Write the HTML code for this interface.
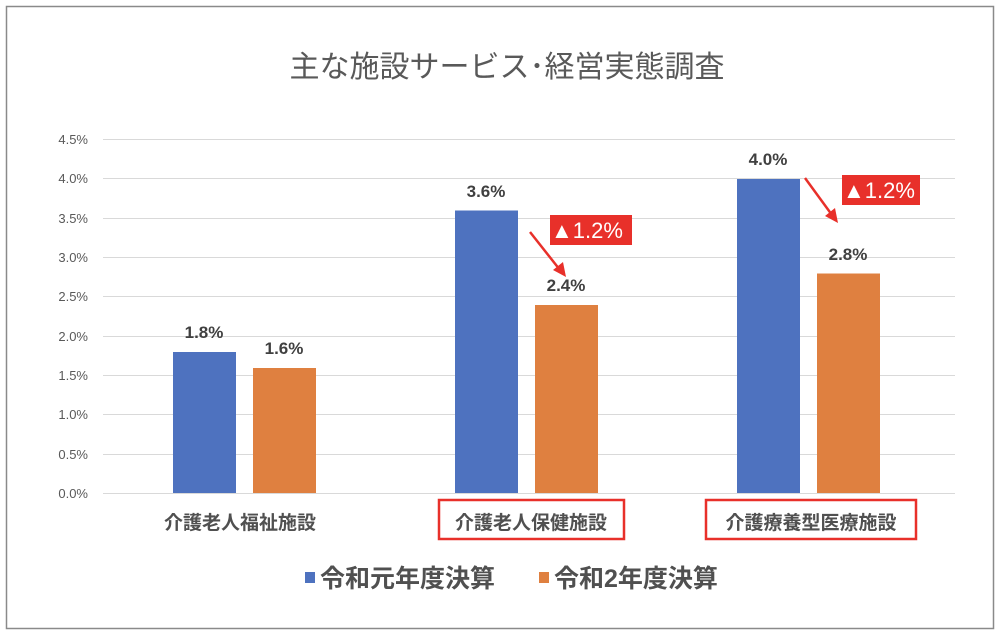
<!DOCTYPE html>
<html><head><meta charset="utf-8"><style>
body{margin:0;background:#fff;}
svg text{font-family:"Liberation Sans","Noto Sans CJK JP",sans-serif;}
</style></head><body>
<svg width="1000" height="638" xmlns="http://www.w3.org/2000/svg">
<rect x="6.5" y="6.5" width="987" height="622" fill="#fff" stroke="#8a8a8a" stroke-width="1.5"/>
<text x="507" y="77" font-size="30" fill="#595959" text-anchor="middle">主な施設サービス･経営実態調査</text>
<g stroke="#d9d9d9" stroke-width="1">
<line x1="103" x2="955" y1="139.5" y2="139.5"/><line x1="103" x2="955" y1="178.5" y2="178.5"/>
<line x1="103" x2="955" y1="218.5" y2="218.5"/><line x1="103" x2="955" y1="257.5" y2="257.5"/>
<line x1="103" x2="955" y1="296.5" y2="296.5"/><line x1="103" x2="955" y1="336.5" y2="336.5"/>
<line x1="103" x2="955" y1="375.5" y2="375.5"/><line x1="103" x2="955" y1="414.5" y2="414.5"/>
<line x1="103" x2="955" y1="454.5" y2="454.5"/><line x1="103" x2="955" y1="493.5" y2="493.5"/>
</g>
<g font-size="13" fill="#595959" text-anchor="end">
<text x="88" y="144">4.5%</text><text x="88" y="183">4.0%</text><text x="88" y="223">3.5%</text>
<text x="88" y="262">3.0%</text><text x="88" y="301">2.5%</text><text x="88" y="341">2.0%</text>
<text x="88" y="380">1.5%</text><text x="88" y="419">1.0%</text><text x="88" y="459">0.5%</text>
<text x="88" y="498">0.0%</text>
</g>
<g fill="#4e72bf">
<rect x="173" y="352" width="63" height="141"/>
<rect x="455" y="210.5" width="63" height="282.5"/>
<rect x="737" y="179" width="63" height="314"/>
</g>
<g fill="#df8040">
<rect x="253" y="368" width="63" height="125"/>
<rect x="535" y="305" width="63" height="188"/>
<rect x="817" y="273.5" width="63" height="219.5"/>
</g>
<g font-size="17" font-weight="bold" fill="#404040" text-anchor="middle">
<text x="204" y="338">1.8%</text><text x="284" y="354">1.6%</text>
<text x="486" y="197">3.6%</text><text x="566" y="291">2.4%</text>
<text x="768" y="165">4.0%</text><text x="848" y="260">2.8%</text>
</g>
<g font-size="19" font-weight="bold" fill="#505050" text-anchor="middle">
<text x="240" y="529">介護老人福祉施設</text>
<text x="531" y="529">介護老人保健施設</text>
<text x="811" y="529">介護療養型医療施設</text>
</g>
<g fill="none" stroke="#e8302a" stroke-width="2.5">
<rect x="439" y="500" width="185" height="39"/>
<rect x="706" y="500" width="210" height="39"/>
<line x1="530" y1="232" x2="560" y2="270"/>
<line x1="805" y1="178" x2="832" y2="215"/>
</g>
<g fill="#e8302a">
<polygon points="566,277 553,270 563,262"/>
<polygon points="838,223 825,216 835,208"/>
<rect x="550" y="215" width="82" height="30"/>
<rect x="842" y="175" width="78" height="30"/>
</g>
<g font-size="22" fill="#fff">
<text x="551" y="238">▲1.2%</text>
<text x="843" y="198">▲1.2%</text>
</g>
<rect x="305" y="572" width="10" height="11" fill="#4e72bf"/>
<text x="320" y="587" font-size="25" font-weight="bold" fill="#505050">令和元年度決算</text>
<rect x="539" y="572" width="10" height="11" fill="#df8040"/>
<text x="554" y="587" font-size="25" font-weight="bold" fill="#505050">令和2年度決算</text>
</svg>
</body></html>
